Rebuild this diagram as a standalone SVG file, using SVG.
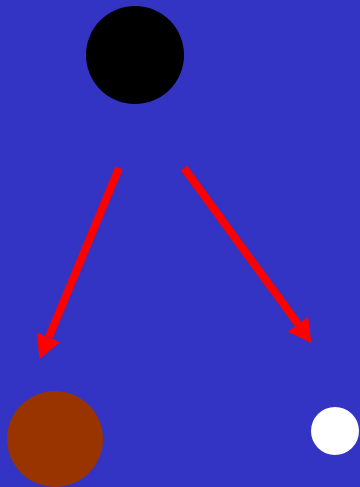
<svg xmlns="http://www.w3.org/2000/svg" width="360" height="487" viewBox="0 0 360 487">
<style>
.c{stroke:#ff0000;stroke-width:8;fill:none}
.h{fill:#ff0000}
</style>
<rect width="360" height="487" fill="#3333c4"/>
<g id="node-top"><circle cx="135" cy="55" r="49" fill="#000000"/></g>
<g id="node-left"><circle cx="55" cy="439" r="48" fill="#993300"/></g>
<g id="node-right"><circle cx="335" cy="431" r="24" fill="#ffffff"/></g>
<g id="connectors">
<line class="c" x1="119" y1="168" x2="49" y2="337"/>
<polygon class="h" points="39.5,359 36.8,332.6 60,342.2"/>
<line class="c" x1="184" y1="168" x2="298" y2="324"/>
<polygon class="h" points="311.5,343 287.8,331.7 308.1,316.8"/>
</g>
</svg>
